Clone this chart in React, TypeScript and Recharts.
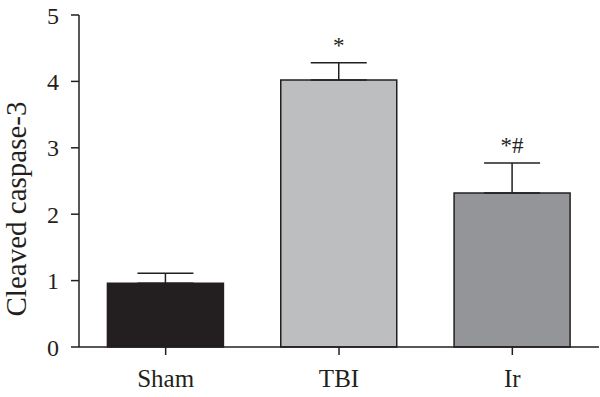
import React from 'react';
import { BarChart, Bar, XAxis, YAxis, ErrorBar, Cell, LabelList, Label } from 'recharts';

const groups = ['Sham', 'TBI', 'Ir'];
const means = [0.96, 4.02, 2.32];
const upperErr = [0.15, 0.26, 0.45];
const marks = ['', '*', '*#'];
const fills = ['#231f20', '#bcbec0', '#939598'];
const yTicks = [0, 1, 2, 3, 4, 5];

const data = groups.map((g, i) => ({
  name: g,
  value: means[i],
  err: [0, upperErr[i]],
  mark: marks[i],
}));

const ink = '#231f20';
const serif = '"Liberation Serif", "DejaVu Serif", serif';

// places the significance mark above the error bar cap
const MarkLabel = (props: any) => {
  const { x, y, width, height, value, index } = props;
  if (!value) return null;
  const perUnit = height / means[index];
  const capY = y - upperErr[index] * perUnit;
  return (
    <text x={x + width / 2} y={capY - 10} textAnchor="middle" fontFamily={serif} fontSize={23} fill={ink}>
      {value}
    </text>
  );
};

const YTitle = (props: any) => {
  const { viewBox } = props;
  const cx = 26;
  const cy = viewBox.y + viewBox.height / 2 + 28;
  return (
    <text x={cx} y={cy} transform={`rotate(-90 ${cx} ${cy})`} textAnchor="middle" fontFamily={serif} fontSize={29} fill={ink}>
      Cleaved caspase-3
    </text>
  );
};

export default function App() {
  return (
    <div style={{ position: 'fixed', left: 0, top: 0, width: 600, height: 397, background: '#fff' }}>
      <BarChart
        width={600}
        height={397}
        data={data}
        margin={{ top: 15, right: 1, left: 0, bottom: 0 }}
        barCategoryGap="16.4%"
      >
        <XAxis
          dataKey="name"
          height={50}
          axisLine={{ stroke: ink, strokeWidth: 1.5 }}
          tickLine={{ stroke: ink, strokeWidth: 1.5 }}
          tickSize={8}
          tickMargin={14}
          tick={{ fill: ink, fontFamily: serif, fontSize: 25 }}
        />
        <YAxis
          width={79}
          domain={[0, 5]}
          ticks={yTicks}
          interval={0}
          axisLine={{ stroke: ink, strokeWidth: 1.5 }}
          tickLine={{ stroke: ink, strokeWidth: 1.5 }}
          tickSize={8}
          tickMargin={12}
          tick={{ fill: ink, fontFamily: serif, fontSize: 24 }}
        >
          <Label content={<YTitle />} />
        </YAxis>
        <Bar dataKey="value" stroke={ink} strokeWidth={1.5} isAnimationActive={false}>
          {data.map((d, i) => (
            <Cell key={d.name} fill={fills[i]} />
          ))}
          <ErrorBar dataKey="err" direction="y" width={28} stroke={ink} strokeWidth={1.5} isAnimationActive={false} />
          <LabelList dataKey="mark" content={<MarkLabel />} />
        </Bar>
      </BarChart>
    </div>
  );
}
